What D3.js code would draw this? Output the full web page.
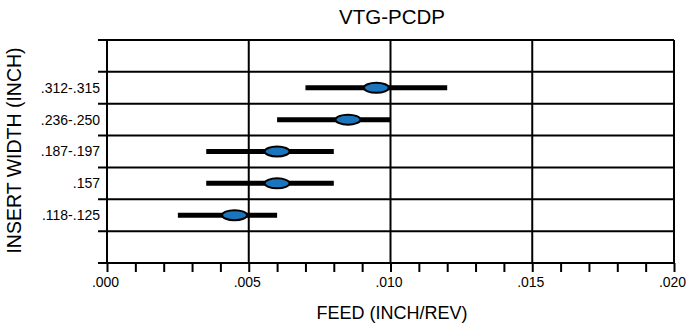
<!DOCTYPE html>
<html>
<head>
<meta charset="utf-8">
<script src="https://cdn.jsdelivr.net/npm/d3@7"></script>
<style>
  html, body { margin: 0; padding: 0; background: #fff; }
  svg { display: block; font-family: Arial, "Liberation Sans", sans-serif; }
</style>
</head>
<body>
<svg id="chart" width="686" height="324"></svg>
<script>
// Insert width classes, listed top to bottom
const widths = [".312-.315", ".236-.250", ".187-.197", ".157", ".118-.125"];
// Recommended feed range (inch/rev) and typical value per width class
const feedMin = [0.0070, 0.0060, 0.0035, 0.0035, 0.0025];
const feedMax = [0.0120, 0.0100, 0.0080, 0.0080, 0.0060];
const feedTyp = [0.0095, 0.0085, 0.0060, 0.0060, 0.0045];
// Axis tick labels
const xTickValues = [0, 0.005, 0.010, 0.015, 0.020];
const xTickLabels = [".000", ".005", ".010", ".015", ".020"];

const svg = d3.select("#chart");
const m = { left: 107, right: 12, top: 40, bottom: 61 };
const W = 686, H = 324;

// Rows: one empty slot above and below the width classes
const rows = ["top"].concat(widths, ["bottom"]);
const x = d3.scaleLinear().domain([0, 0.020]).range([m.left, W - m.right]);
const y = d3.scaleBand().domain(rows).range([m.top, H - m.bottom]);

const g = svg.append("g");

// Horizontal grid lines at each row boundary, with short ticks left of the axis
const bounds = rows.map(r => y(r)).concat([y.range()[1]]);
g.selectAll("line.h").data(bounds).join("line")
  .attr("x1", m.left - 9).attr("x2", x(0.020))
  .attr("y1", d => d).attr("y2", d => d)
  .attr("stroke", "#000").attr("stroke-width", 2);

// Vertical grid lines at major feed values
g.selectAll("line.v").data(xTickValues).join("line")
  .attr("x1", d => x(d)).attr("x2", d => x(d))
  .attr("y1", m.top).attr("y2", y.range()[1])
  .attr("stroke", "#000").attr("stroke-width", 2);

// Bottom axis: minor ticks every .001, labels at the major values
const xAxis = d3.axisBottom(x)
  .tickValues(d3.range(0, 0.0205, 0.001))
  .tickSize(9)
  .tickFormat(d => {
    const i = xTickValues.findIndex(v => Math.abs(v - d) < 1e-9);
    return i >= 0 ? xTickLabels[i] : "";
  });
const ax = svg.append("g").attr("transform", `translate(0,${y.range()[1]})`).call(xAxis);
ax.select(".domain").remove();
ax.selectAll(".tick line").attr("stroke", "#000").attr("stroke-width", 2);
ax.selectAll(".tick text").attr("y", 14).attr("x", -2).attr("fill", "#000")
  .style("font-size", "14px").style("font-family", "Arial, 'Liberation Sans', sans-serif");

// Width class labels
svg.selectAll("text.ylab").data(widths).join("text")
  .attr("x", 100).attr("y", d => y(d) + y.bandwidth() / 2)
  .attr("dy", "0.35em").attr("text-anchor", "end")
  .style("font-size", "14px").text(d => d);

// Feed ranges and typical values
const data = widths.map((w, i) => ({ w, lo: feedMin[i], hi: feedMax[i], typ: feedTyp[i] }));
const marks = svg.append("g");
marks.selectAll("line.range").data(data).join("line")
  .attr("x1", d => x(d.lo)).attr("x2", d => x(d.hi))
  .attr("y1", d => y(d.w) + y.bandwidth() / 2).attr("y2", d => y(d.w) + y.bandwidth() / 2)
  .attr("stroke", "#000").attr("stroke-width", 5);
marks.selectAll("ellipse").data(data).join("ellipse")
  .attr("cx", d => x(d.typ)).attr("cy", d => y(d.w) + y.bandwidth() / 2)
  .attr("rx", 12.5).attr("ry", 5)
  .attr("fill", "#1b75bc").attr("stroke", "#000").attr("stroke-width", 2);

// Titles
svg.append("text").attr("x", 392).attr("y", 24)
  .attr("text-anchor", "middle").style("font-size", "20.5px").text("VTG-PCDP");
svg.append("text").attr("x", 392).attr("y", 319)
  .attr("text-anchor", "middle").style("font-size", "18px").text("FEED (INCH/REV)");
svg.append("text")
  .attr("transform", `translate(21,${(m.top + H - m.bottom) / 2 - 1}) rotate(-90)`)
  .attr("text-anchor", "middle").style("font-size", "19.5px").text("INSERT WIDTH (INCH)");
</script>
</body>
</html>
